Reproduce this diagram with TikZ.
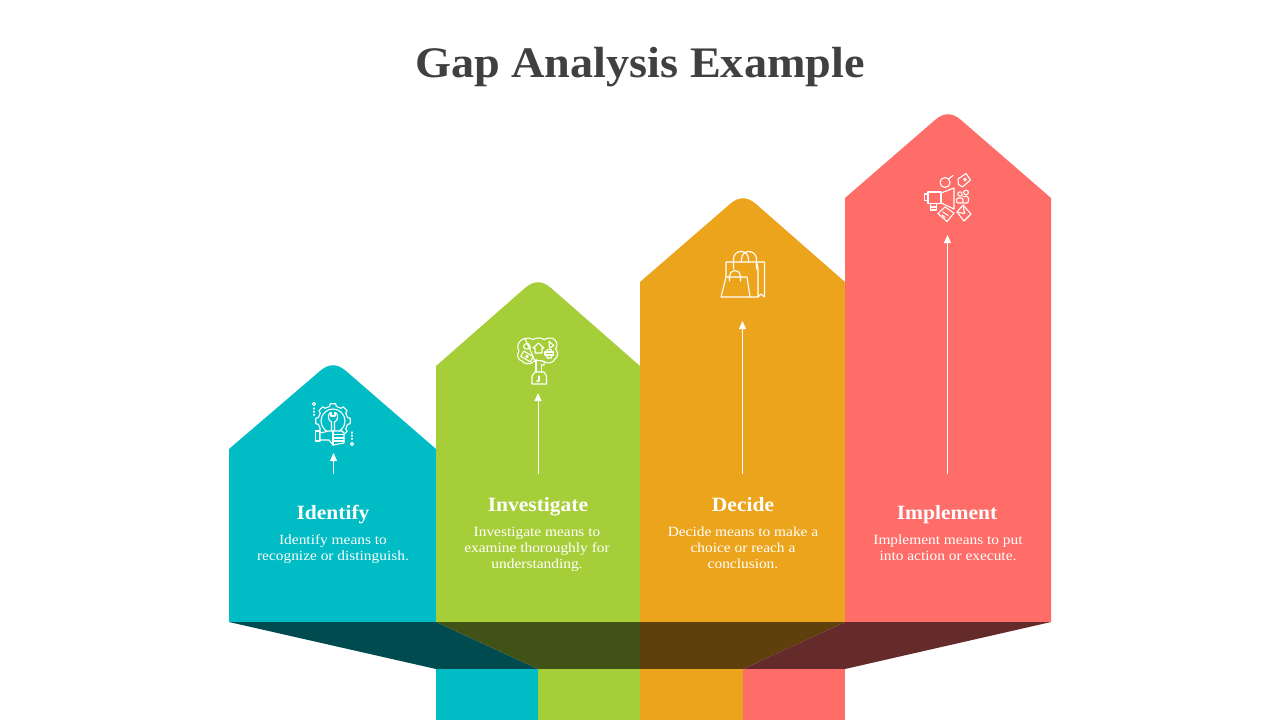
\documentclass[tikz,border=0pt]{standalone}
\usepackage{fontspec}
\setmainfont{Liberation Serif}
\newfontfamily\titlefont[FakeStretch=1.06]{Liberation Serif}
\newfontfamily\bodyfont[FakeStretch=1.10]{Liberation Serif}
\usetikzlibrary{arrows.meta}
\definecolor{cteal}{HTML}{00BCC4}
\definecolor{cgreen}{HTML}{A5CE39}
\definecolor{corange}{HTML}{EBA41B}
\definecolor{cred}{HTML}{FF6D68}
\definecolor{steal}{HTML}{004B50}
\definecolor{sgreen}{HTML}{405216}
\definecolor{sorange}{HTML}{5F3F0C}
\definecolor{sred}{HTML}{652B2B}
\definecolor{ctitle}{HTML}{404040}
\tikzset{
  x=1pt,y=-1pt,
  head/.style={font=\titlefont\bfseries\fontsize{20.3}{24}\selectfont,text=white,anchor=center,inner sep=0pt,text height=14pt,text depth=4pt},
  body/.style={font=\bodyfont\fontsize{14}{16}\selectfont,text=white,align=center,anchor=center,inner sep=0pt},
  arrowline/.style={draw=white,line width=0.9pt,-{Triangle[length=8pt,width=7pt]}},
  icon/.style={draw=white,line width=1.1pt,line join=round,line cap=round},
}
\newcommand{\arrowshape}[5]{% colour, left, right, shoulder y, mid x
  \fill[#1] (#2,622) -- (#2,#4)
    -- ({#5-13},{#4-78}) .. controls ({#5-4},{#4-85.7}) and ({#5+4},{#4-85.7}) .. ({#5+13},{#4-78})
    -- (#3,#4) -- (#3,622) -- cycle;
}
\begin{document}
\begin{tikzpicture}
\useasboundingbox (0,0) rectangle (1280,720);
\fill[white] (0,0) rectangle (1280,720);

\arrowshape{cteal}{229}{436}{449}{333}
\arrowshape{cgreen}{436}{640}{366}{538}
\arrowshape{corange}{640}{845}{282}{743}
\arrowshape{cred}{845}{1051}{198}{948}

% lower band
\fill[steal] (229,622) -- (436,622) -- (538,669) -- (436,669) -- cycle;
\fill[sgreen] (436,622) -- (640,622) -- (640,669) -- (538,669) -- cycle;
\fill[sorange] (640,622) -- (845,622) -- (743,669) -- (640,669) -- cycle;
\fill[sred] (845,622) -- (1051,622) -- (845,669) -- (743,669) -- cycle;
\fill[cteal] (436,669) rectangle (538,720);
\fill[cgreen] (538,669) rectangle (640,720);
\fill[corange] (640,669) rectangle (743,720);
\fill[cred] (743,669) rectangle (845,720);

% title
\node[font=\titlefont\bfseries\fontsize{43.6}{52}\selectfont,text=ctitle,inner sep=0pt] (title) at (640,67) {Gap Analysis Example};

% texts
\node[head] (h1) at (333,514) {Identify};
\node[body] (b1) at (333,549) {Identify means to\\recognize or distinguish.};
\node[head] (h2) at (538,506) {Investigate};
\node[body] (b2) at (537,549) {Investigate means to\\examine thoroughly for\\understanding.};
\node[head] (h3) at (743,506) {Decide};
\node[body] (b3) at (743,547.5) {Decide means to make a\\choice or reach a\\conclusion.};
\node[head] (h4) at (947,514) {Implement};
\node[body] (b4) at (948,547.5) {Implement means to put\\into action or execute.};

% arrows
\coordinate (a1s) at (333.5,474); \coordinate (a1e) at (333.5,453);
\coordinate (a2s) at (538,474);   \coordinate (a2e) at (538,393);
\coordinate (a3s) at (742.5,474); \coordinate (a3e) at (742.5,321);
\coordinate (a4s) at (947.5,474); \coordinate (a4e) at (947.5,235);
\draw[arrowline] (a1s) -- (a1e);
\draw[arrowline] (a2s) -- (a2e);
\draw[arrowline] (a3s) -- (a3e);
\draw[arrowline] (a4s) -- (a4e);

% icon 1: gear, wrench, hand
\begin{scope}[icon]
  \foreach \a in {0,45,...,315}{
    \draw ([shift={(\a-13:15)}]333,421) -- ([shift={(\a-9:17.5)}]333,421) -- ([shift={(\a+9:17.5)}]333,421) -- ([shift={(\a+13:15)}]333,421);
    \draw ([shift={(\a+13:15)}]333,421) -- ([shift={(\a+32:15)}]333,421);
  }
  \draw (333,421) circle (12);
  \draw (329.5,413) .. controls (327,417) and (329,421) .. (331.5,422) -- (331.5,431);
  \draw (336.5,413) .. controls (339,417) and (337,421) .. (334.5,422) -- (334.5,431);
  \draw (331,412.5) -- (331,416) -- (335,416) -- (335,412.5);
  \fill[cteal,draw=white] (315.5,431) rectangle (320,441);
  \fill[cteal,draw=white] (320,433) -- (329,431) -- (342,431) -- (344,433) -- (344,443) -- (333,445) -- (329,440) -- (320,440) -- cycle;
  \draw (333,434.5) -- (344,434.5); \draw (333,438) -- (344,438); \draw (333,441) -- (344,441); \draw (333,431) -- (333,445);
  \draw (314,404) circle (1.6);
  \draw[dotted] (314,408) -- (314,417);
  \draw (352,444) circle (1.6);
  \draw[dotted] (352,432) -- (352,441);
\end{scope}

% icon 2: tree with symbols
\begin{scope}[icon]
  \draw (525,338.5) .. controls (528,337.5) and (531,338) .. (533,339.5) .. controls (537,337.5) and (541,337.5) .. (544,339.5)
    .. controls (548,337.5) and (553,337.5) .. (555,340) .. controls (558,343) and (557,347) .. (555.5,349)
    .. controls (558.5,352) and (558,357) .. (555,359) .. controls (553,363) and (548,364) .. (545,362)
    -- (542,361) (535,361) -- (533,362) .. controls (530,365) and (524,364) .. (522,361)
    .. controls (518,360) and (516,355) .. (519,351) .. controls (516,347) and (518,340) .. (525,338.5) -- cycle;
  \draw (536,360) -- (536,372) (541.5,365) -- (541.5,372);
  \draw (536,360) -- (544.5,361.5) -- (544,365) -- (541.5,365);
  \draw (532,384) -- (532,376) -- (535,372) -- (544,372) -- (546.5,376) -- (546.5,384) -- cycle;
  \draw (539,376) -- (539,381) -- (537,381);
  \draw (538.5,343) -- (544,348) -- (542,348) -- (542,353) -- (535,353) -- (535,348) -- (533,348) -- cycle;
  \draw (528,343.5) -- (530,346) -- (530,348.5) -- (525,349) -- (523.5,346.5) -- (525,344) -- cycle;
  \draw (549,341.5) -- (554,345.5) -- (549.5,348) -- cycle;
  \draw (545,352) -- (553.5,352) -- (553.5,355) -- (545,355) -- cycle;
  \draw (546.5,352) -- (547.5,349.5) -- (551,349.5) -- (552,352) (547,355) -- (547,358) -- (551.5,358) -- (551.5,355);
  \draw[rotate around={-30:(527,356.5)}] (521.5,353.5) rectangle (532.5,359.5);
  \draw (527,356.5) circle (1.3);
\end{scope}

% icon 3: shopping bags
\begin{scope}[icon]
  \draw (726,277) -- (726,262) -- (764.5,262) -- (764.5,297) -- (761,294) -- (758,297);
  \draw (756.5,262) -- (758,268) -- (758,297) -- (750,297);
  \draw (733.5,269) -- (733.5,259) arc (180:360:7.5 and 7.5) -- (748.5,262);
  \draw (741.5,262) -- (741.5,259) arc (180:360:7.5 and 7.5) -- (756.5,269);
  \fill[corange,draw=white] (726,277) -- (747,277) -- (750,297) -- (721,297) -- cycle;
  \draw (729.5,281) -- (729.5,276) arc (180:360:5.5 and 5.5) -- (740.5,281);
\end{scope}

% icon 4: megaphone and marketing items
\begin{scope}[icon]
  \draw (941,193) -- (954,188) -- (954,209) -- (941,203) -- cycle;
  \draw (928,192) -- (941,192) -- (941,203.5) -- (928,203.5) -- cycle;
  \draw (928,194) -- (924.5,194) -- (924.5,200.5) -- (928,200.5);
  \draw (930.5,203.5) -- (930.5,210) -- (936.5,210) -- (936.5,203.5);
  \draw (931,207) -- (936,207);
  \draw (945,182.5) circle (5);
  \draw (948.5,179) -- (953,175.5);
  \draw (958,179) -- (966,173.5) -- (970.5,180) -- (962.5,187) -- (958.5,184.5) -- cycle;
  \draw (965,179.5) circle (1.3);
  \draw (960,194) circle (2.2) (966,192.5) circle (2.4);
  \draw[rounded corners=2pt] (956.5,203) -- (956.5,198) -- (963,198) -- (963,203) -- cycle;
  \draw[rounded corners=2pt] (963,203) -- (968.5,203) -- (968.5,196.5) -- (963,196.5);
  \draw (945,207) -- (954,213) -- (947,221.5) -- (938,213.5) -- cycle;
  \draw (943,212) -- (948,215.5) (942,215) -- (945,217.5);
  \draw (963,205) -- (971,214) -- (964,221) -- (957,212) -- cycle;
  \draw (957,212) -- (964.5,213.5) -- (963,205);
\end{scope}
\end{tikzpicture}
\end{document}
